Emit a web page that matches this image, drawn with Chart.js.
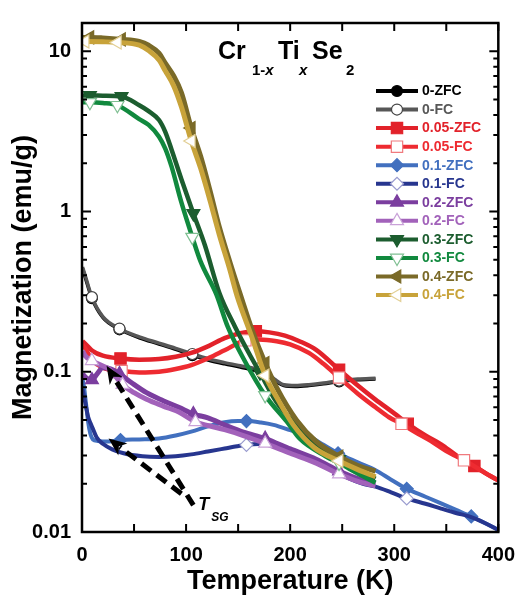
<!DOCTYPE html>
<html>
<head>
<meta charset="utf-8">
<script src="https://cdn.jsdelivr.net/npm/chart.js@4.4.1/dist/chart.umd.min.js"></script>
<style>
  html, body { margin: 0; padding: 0; background: #fff; }
  #wrap { width: 526px; height: 595px; position: relative; }
</style>
</head>
<body>
<div id="wrap"><canvas id="chart"></canvas></div>
<script>
// Values: temperature (K) and magnetization (emu/g).
// *Marks = temperatures where a symbol is drawn.

// x = 0
const zfc0T = [0.5, 3, 9.5, 20, 36, 55, 74, 90, 106, 122, 137, 152, 168, 177, 185, 194, 205, 218, 232, 247, 265, 282];
const zfc0M = [0.44, 0.39, 0.288, 0.218, 0.184, 0.163, 0.149, 0.138, 0.127, 0.118, 0.112, 0.107, 0.101, 0.095, 0.088, 0.082, 0.081, 0.082, 0.084, 0.087, 0.089, 0.090];
const zfc0Marks = [9.5, 36, 106, 247];
const fc0T = [0.5, 3, 9.5, 20, 36, 55, 74, 90, 106, 122, 137, 152, 168, 177, 185, 194, 205, 218, 232, 247, 265, 282];
const fc0M = [0.45, 0.40, 0.292, 0.221, 0.186, 0.165, 0.151, 0.140, 0.129, 0.120, 0.114, 0.109, 0.104, 0.099, 0.090, 0.083, 0.082, 0.083, 0.085, 0.088, 0.090, 0.091];
const fc0Marks = [9.5, 36, 106, 247];

// x = 0.05
const zfc05T = [0.5, 3, 10, 20, 37, 55, 74, 90, 105, 122, 137, 152, 167, 180, 195, 210, 225, 247, 265, 282, 300, 313, 330, 345, 360, 377, 390, 400];
const zfc05M = [0.155, 0.150, 0.135, 0.126, 0.121, 0.119, 0.120, 0.124, 0.131, 0.145, 0.162, 0.174, 0.179, 0.176, 0.168, 0.154, 0.137, 0.103, 0.082, 0.067, 0.055, 0.0473, 0.040, 0.0352, 0.030, 0.0258, 0.0228, 0.021];
const zfc05Marks = [37, 167, 247, 313, 377];
const fc05T = [0.5, 3, 10, 20, 38, 55, 74, 90, 105, 122, 137, 157, 170, 187, 200, 218, 232, 247, 265, 282, 295, 307, 320, 335, 350, 367, 380, 390, 400];
const fc05M = [0.148, 0.140, 0.118, 0.106, 0.101, 0.099, 0.100, 0.104, 0.110, 0.122, 0.136, 0.157, 0.159, 0.155, 0.148, 0.131, 0.112, 0.092, 0.073, 0.060, 0.052, 0.0473, 0.042, 0.037, 0.032, 0.028, 0.025, 0.0228, 0.021];
const fc05Marks = [38, 157, 247, 307, 367];

// x = 0.1
const zfc1T = [0.5, 2, 4, 6, 8, 10.5, 15, 26, 37, 55, 74, 90, 105, 122, 137, 150, 158, 172, 184, 200, 218, 232, 246, 265, 282, 297, 312, 330, 345, 360, 374, 388, 400];
const zfc1M = [0.090, 0.080, 0.062, 0.048, 0.041, 0.0378, 0.0370, 0.0367, 0.0375, 0.0378, 0.0383, 0.0400, 0.0423, 0.0458, 0.0484, 0.0492, 0.0492, 0.0482, 0.0466, 0.0432, 0.0395, 0.0350, 0.0310, 0.0272, 0.0243, 0.0212, 0.0186, 0.0166, 0.0151, 0.0137, 0.0125, 0.0113, 0.0103];
const zfc1Marks = [37, 158, 246, 312, 374];
const fc1T = [0.5, 2, 4, 6, 8, 10.5, 14, 20, 29, 40, 58, 74, 90, 105, 121, 137, 149, 158, 170, 184, 194, 205, 220, 235, 256, 270, 282, 297, 312, 330, 345, 360, 372, 388, 400];
const fc1M = [0.078, 0.070, 0.060, 0.052, 0.048, 0.044, 0.039, 0.0355, 0.0328, 0.0310, 0.0297, 0.0294, 0.0297, 0.0305, 0.0318, 0.0332, 0.0343, 0.0350, 0.0354, 0.0352, 0.0335, 0.0315, 0.0290, 0.0257, 0.0217, 0.0200, 0.0192, 0.0177, 0.0162, 0.0150, 0.0140, 0.0131, 0.0125, 0.0113, 0.0103];
const fc1Marks = [158, 312];

// x = 0.2
const zfc2T = [0.5, 3, 6, 9.5, 14, 20, 28, 36, 48, 62, 78, 93, 107, 121, 137, 155, 176, 200, 225, 247, 265, 282];
const zfc2M = [0.097, 0.093, 0.090, 0.089, 0.096, 0.106, 0.104, 0.097, 0.085, 0.074, 0.066, 0.060, 0.0545, 0.0515, 0.0466, 0.0420, 0.0383, 0.0330, 0.0284, 0.0240, 0.0215, 0.0203];
const zfc2Marks = [9.5, 36, 107, 176, 247];
const fc2T = [0.5, 3, 9.5, 18, 26, 32, 39, 50, 62, 78, 93, 109, 122, 137, 155, 176, 200, 225, 247, 265, 282];
const fc2M = [0.135, 0.126, 0.117, 0.110, 0.104, 0.094, 0.083, 0.074, 0.0673, 0.061, 0.056, 0.0486, 0.046, 0.0435, 0.040, 0.0357, 0.031, 0.0269, 0.0230, 0.0207, 0.0194];
const fc2Marks = [9.5, 39, 109, 176, 247];

// x = 0.3
const zfc3T = [0.5, 7.6, 20, 38, 55, 64, 74, 80, 86, 95.5, 107, 118, 132, 147, 162, 171, 187, 203, 218, 234, 247, 265, 282];
const zfc3M = [5.30, 5.30, 5.28, 5.22, 4.60, 4.23, 3.72, 3.14, 2.44, 1.59, 0.972, 0.618, 0.31, 0.191, 0.125, 0.0986, 0.0645, 0.0486, 0.039, 0.0318, 0.0284, 0.0245, 0.0215];
const zfc3Marks = [7.6, 38, 107, 171, 247];
const fc3T = [0.5, 7.6, 20, 34, 55, 64, 74, 80, 86, 95.5, 106, 114, 129, 140, 156, 176, 197, 209, 234, 247, 265, 282];
const fc3M = [4.80, 4.80, 4.75, 4.60, 3.77, 3.47, 2.93, 2.47, 1.91, 1.14, 0.692, 0.486, 0.305, 0.191, 0.118, 0.0712, 0.0486, 0.0383, 0.0297, 0.0269, 0.0232, 0.0203];
const fc3Marks = [7.6, 34, 106, 176, 247];

// x = 0.4
const zfc4T = [0.5, 7.6, 20, 38, 55, 64, 74, 80, 88, 95.5, 105, 114, 123, 132, 142, 152, 164, 176, 187, 206, 225, 247, 265, 282];
const zfc4M = [12.2, 12.2, 12.1, 11.85, 11.5, 10.9, 9.72, 8.44, 7.03, 5.52, 3.32, 2.21, 1.35, 0.798, 0.486, 0.305, 0.178, 0.1135, 0.0797, 0.050, 0.0367, 0.0296, 0.026, 0.024];
const zfc4Marks = [7.6, 38, 105, 176, 247];
const fc4T = [0.5, 3, 20, 34, 55, 64, 74, 80, 88, 95.5, 105, 114, 123, 132, 142, 149, 163, 176, 187, 203, 223, 247, 265, 282];
const fc4M = [11.5, 11.5, 11.45, 11.35, 10.9, 10.1, 8.81, 7.54, 6.10, 4.5, 2.75, 1.86, 1.17, 0.713, 0.434, 0.297, 0.166, 0.0946, 0.0693, 0.0466, 0.0337, 0.0277, 0.0245, 0.0221];
const fc4Marks = [3, 34, 105, 176, 247];

// axis ticks
const xTickValues = [0, 50, 100, 150, 200, 250, 300, 350, 400];
const xTickLabels = [0, 100, 200, 300, 400];
const yMajorTicks = [0.01, 0.1, 1, 10];
const yMinorTicks = [0.02, 0.03, 0.04, 0.05, 0.06, 0.07, 0.08, 0.09,
                     0.2, 0.3, 0.4, 0.5, 0.6, 0.7, 0.8, 0.9,
                     2, 3, 4, 5, 6, 7, 8, 9];

// T_SG annotation (data coordinates)
const tsgArrowTips = [{x: 23.6, y: 0.109}, {x: 25.5, y: 0.0383}];
const tsgArrowTails = [{x: 107, y: 0.0147}, {x: 95.5, y: 0.0173}];
const tsgLabelAt = {x: 111.6, y: 0.01365};

const SERIES = [
  ['0-ZFC', zfc0T, zfc0M, zfc0Marks],
  ['0-FC', fc0T, fc0M, fc0Marks],
  ['0.05-ZFC', zfc05T, zfc05M, zfc05Marks],
  ['0.05-FC', fc05T, fc05M, fc05Marks],
  ['0.1-ZFC', zfc1T, zfc1M, zfc1Marks],
  ['0.1-FC', fc1T, fc1M, fc1Marks],
  ['0.2-ZFC', zfc2T, zfc2M, zfc2Marks],
  ['0.2-FC', fc2T, fc2M, fc2Marks],
  ['0.3-ZFC', zfc3T, zfc3M, zfc3Marks],
  ['0.3-FC', fc3T, fc3M, fc3Marks],
  ['0.4-ZFC', zfc4T, zfc4M, zfc4Marks],
  ['0.4-FC', fc4T, fc4M, fc4Marks],
];

const STYLE = {
  '0-ZFC':    {color: '#000000', width: 3.5, shape: 'circle', rot: 0, r: 5.5, open: false},
  '0-FC':     {color: '#575757', width: 3.5, shape: 'circle', rot: 0, r: 5.5, open: true, edge: '#444444'},
  '0.05-ZFC': {color: '#e2222a', width: 4.5, shape: 'rect', rot: 0, r: 8, open: false},
  '0.05-FC':  {color: '#ee2b31', width: 4.5, shape: 'rect', rot: 0, r: 8, open: true, edge: '#f07a7e'},
  '0.1-ZFC':  {color: '#4270bf', width: 4, shape: 'rectRot', rot: 0, r: 6.5, open: false},
  '0.1-FC':   {color: '#27368f', width: 4, shape: 'rectRot', rot: 0, r: 6.5, open: true, edge: '#9a9ccf'},
  '0.2-ZFC':  {color: '#7b3e9f', width: 5, shape: 'triangle', rot: 0, r: 7.5, open: false},
  '0.2-FC':   {color: '#a262ba', width: 5, shape: 'triangle', rot: 0, r: 7.5, open: true, edge: '#c9a2d8'},
  '0.3-ZFC':  {color: '#1c5d2f', width: 4.5, shape: 'triangle', rot: 180, r: 7.5, open: false},
  '0.3-FC':   {color: '#11893e', width: 4.5, shape: 'triangle', rot: 180, r: 7.5, open: true, edge: '#7fbf92'},
  '0.4-ZFC':  {color: '#7a6a28', width: 5, shape: 'triangle', rot: -90, r: 7.5, open: false},
  '0.4-FC':   {color: '#c8a33a', width: 5, shape: 'triangle', rot: -90, r: 7.5, open: true, edge: '#e2cf95'},
};

const FONT = '"Liberation Sans", Arial, Helvetica, sans-serif';

function makeDataset([label, T, M, marks], i) {
  const s = STYLE[label];
  return {
    label,
    data: T.map((t, k) => ({x: t, y: M[k]})),
    borderColor: s.color,
    borderWidth: s.width,
    cubicInterpolationMode: 'monotone',
    fill: false,
    order: SERIES.length - 1 - i,
    pointStyle: s.shape,
    pointRotation: s.rot,
    pointRadius: (ctx) => (ctx.raw && marks.includes(ctx.raw.x)) ? s.r : 0,
    pointHoverRadius: 0,
    pointBackgroundColor: s.open ? '#ffffff' : s.color,
    pointBorderColor: s.open ? s.edge : s.color,
    pointBorderWidth: 1.2,
  };
}

// frame + inward ticks on all four sides
const framePlugin = {
  id: 'frame',
  afterDatasetsDraw(chart) {
    const {ctx, chartArea: a, scales: {x, y}} = chart;
    ctx.save();
    ctx.strokeStyle = '#000';
    ctx.lineWidth = 2;
    ctx.beginPath();
    x.ticks.forEach(t => {
      const px = x.getPixelForValue(t.value);
      ctx.moveTo(px, a.bottom); ctx.lineTo(px, a.bottom - 8);
      ctx.moveTo(px, a.top); ctx.lineTo(px, a.top + 8);
    });
    y.ticks.forEach(t => {
      const py = y.getPixelForValue(t.value);
      const len = yMajorTicks.includes(t.value) ? 9 : 5;
      ctx.moveTo(a.left, py); ctx.lineTo(a.left + len, py);
      ctx.moveTo(a.right, py); ctx.lineTo(a.right - len, py);
    });
    ctx.stroke();
    ctx.lineWidth = 2.5;
    ctx.strokeRect(a.left, a.top, a.right - a.left, a.bottom - a.top);
    ctx.restore();
  }
};

function drawMarker(ctx, s, x, y) {
  ctx.fillStyle = s.open ? '#ffffff' : s.color;
  ctx.strokeStyle = s.open ? s.edge : s.color;
  ctx.lineWidth = 1.2;
  if (Chart.helpers && Chart.helpers.drawPoint) {
    Chart.helpers.drawPoint(ctx, {pointStyle: s.shape, rotation: s.rot, radius: s.r, borderWidth: 1.2}, x, y);
  } else {
    ctx.beginPath(); ctx.arc(x, y, s.r, 0, Math.PI * 2); ctx.fill(); ctx.stroke();
  }
}

// legend inside the plot, top right
const legendPlugin = {
  id: 'insideLegend',
  afterDraw(chart) {
    const {ctx} = chart;
    const x0 = 376, x1 = 418, textX = 422, top = 91, step = 18.55;
    ctx.save();
    SERIES.forEach(([label], i) => {
      const s = STYLE[label];
      const y = top + i * step;
      ctx.strokeStyle = s.color;
      ctx.lineWidth = 4;
      ctx.beginPath(); ctx.moveTo(x0, y); ctx.lineTo(x1, y); ctx.stroke();
      drawMarker(ctx, s, (x0 + x1) / 2, y);
      ctx.fillStyle = s.color;
      ctx.font = 'bold 14px ' + FONT;
      ctx.textAlign = 'left';
      ctx.textBaseline = 'middle';
      ctx.fillText(label, textX, y + 0.5);
    });
    ctx.restore();
  }
};

// compound formula and T_SG note
const notesPlugin = {
  id: 'notes',
  afterDraw(chart) {
    const {ctx, scales: {x, y}} = chart;
    ctx.save();
    ctx.fillStyle = '#000';
    ctx.textBaseline = 'alphabetic';
    ctx.textAlign = 'left';
    const big = 'bold 25px ' + FONT, small = 'bold 15px ' + FONT, smallIt = 'italic bold 15px ' + FONT;
    ctx.font = big; ctx.fillText('Cr', 218, 59);
    ctx.font = small; ctx.fillText('1-', 252, 75);
    const w = ctx.measureText('1-').width;
    ctx.font = smallIt; ctx.fillText('x', 252 + w, 75);
    ctx.font = big; ctx.fillText('Ti', 278, 59);
    ctx.font = smallIt; ctx.fillText('x', 299, 75);
    ctx.font = big; ctx.fillText('Se', 312, 59);
    ctx.font = small; ctx.fillText('2', 346, 75);

    // dashed arrows
    tsgArrowTips.forEach((tip, i) => {
      const tail = tsgArrowTails[i];
      const tx = x.getPixelForValue(tip.x), ty = y.getPixelForValue(tip.y);
      const sx = x.getPixelForValue(tail.x), sy = y.getPixelForValue(tail.y);
      const ang = Math.atan2(ty - sy, tx - sx);
      const head = 18, half = 7.5;
      const bx = tx - Math.cos(ang) * head, by = ty - Math.sin(ang) * head;
      ctx.strokeStyle = '#000';
      ctx.lineWidth = 5;
      ctx.setLineDash([12, 7]);
      ctx.beginPath(); ctx.moveTo(sx, sy); ctx.lineTo(bx + Math.cos(ang) * 4, by + Math.sin(ang) * 4); ctx.stroke();
      ctx.setLineDash([]);
      ctx.beginPath();
      ctx.moveTo(tx, ty);
      ctx.lineTo(bx + Math.sin(ang) * half, by - Math.cos(ang) * half);
      ctx.lineTo(tx - Math.cos(ang) * head * 0.72, ty - Math.sin(ang) * head * 0.72);
      ctx.lineTo(bx - Math.sin(ang) * half, by + Math.cos(ang) * half);
      ctx.closePath();
      ctx.fillStyle = '#000';
      ctx.fill();
    });
    const lx = x.getPixelForValue(tsgLabelAt.x), ly = y.getPixelForValue(tsgLabelAt.y);
    ctx.font = 'italic bold 18px ' + FONT;
    ctx.fillText('T', lx, ly);
    ctx.font = 'italic bold 12px ' + FONT;
    ctx.fillText('SG', lx + 13, ly + 11);
    ctx.restore();
  }
};

new Chart(document.getElementById('chart'), {
  type: 'line',
  data: {datasets: SERIES.map(makeDataset)},
  options: {
    responsive: true,
    maintainAspectRatio: false,
    animation: false,
    events: [],
    layout: {padding: {top: 16, right: 21, left: 0, bottom: 0}},
    plugins: {legend: {display: false}, tooltip: {enabled: false}},
    scales: {
      x: {
        type: 'linear',
        min: 0,
        max: 400,
        afterBuildTicks: (s) => { s.ticks = xTickValues.map(v => ({value: v})); },
        afterFit: (s) => { s.height = 63; },
        grid: {display: false, drawTicks: false},
        border: {display: false},
        ticks: {
          autoSkip: false,
          maxRotation: 0,
          padding: 11,
          color: '#000',
          font: {family: FONT, size: 20, weight: 'bold'},
          callback: (v) => xTickLabels.includes(v) ? String(v) : '',
        },
        title: {
          display: true,
          text: 'Temperature (K)',
          color: '#000',
          font: {family: FONT, size: 27, weight: 'bold', lineHeight: 1},
          padding: {top: 0, bottom: 0},
        },
      },
      y: {
        type: 'logarithmic',
        min: 0.01,
        max: 15,
        afterBuildTicks: (s) => {
          s.ticks = yMajorTicks.concat(yMinorTicks).sort((a, b) => a - b).map(v => ({value: v}));
        },
        afterFit: (s) => { s.width = 82; },
        grid: {display: false, drawTicks: false},
        border: {display: false},
        ticks: {
          autoSkip: false,
          padding: 11,
          color: '#000',
          font: {family: FONT, size: 20, weight: 'bold'},
          callback: (v) => yMajorTicks.includes(v) ? String(v) : '',
        },
        title: {
          display: true,
          text: 'Magnetization (emu/g)',
          color: '#000',
          font: {family: FONT, size: 27, weight: 'bold', lineHeight: 1},
          padding: {top: 10, bottom: 0},
        },
      },
    },
  },
  plugins: [framePlugin, legendPlugin, notesPlugin],
});
</script>
</body>
</html>
